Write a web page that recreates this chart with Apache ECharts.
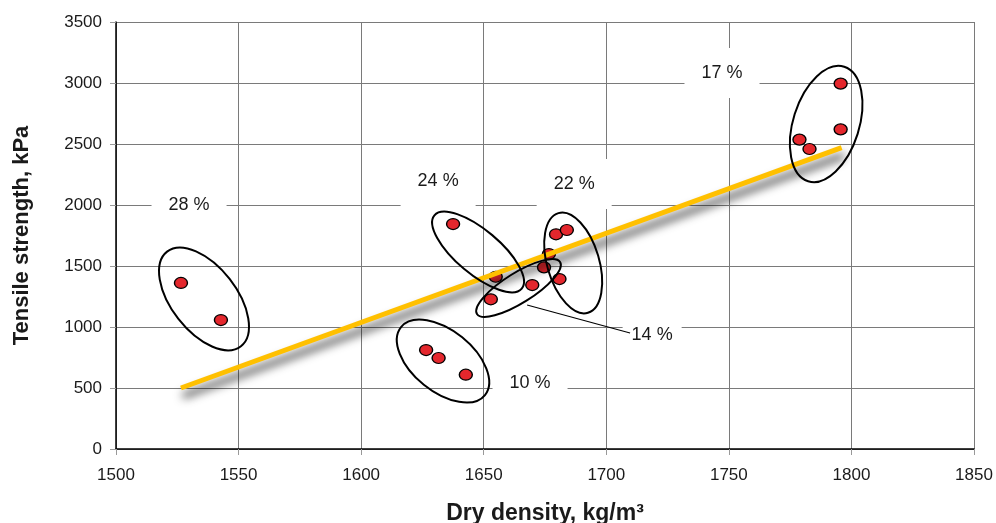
<!DOCTYPE html>
<html>
<head>
<meta charset="utf-8">
<script src="https://cdn.jsdelivr.net/npm/echarts@6/dist/echarts.min.js"></script>
<style>
  html, body { margin: 0; padding: 0; background: #ffffff; }
  #chart { width: 996px; height: 523px; }
</style>
</head>
<body>
<div id="chart"></div>
<script>
// Samples: dry density (kg/m³) against tensile strength (kPa)
const densityValues  = [1526.5, 1542.8, 1637.5, 1654.9, 1652.9, 1669.8, 1674.6, 1676.6, 1679.5, 1683.9, 1680.9, 1626.5, 1631.6, 1642.7, 1778.8, 1782.9, 1795.6, 1795.6];
const strengthValues = [1361,   1057,   1844,   1412,   1227,   1344,   1489,   1598,   1760,   1795,   1393,   811,    746,    609,    2536,   2459,   2620,   2995];

// Linear trend through the samples (end points)
const trendDensity  = [1526.5, 1796];
const trendStrength = [500, 2470];

// Moisture-content groups: label text, label anchor and group centre
const groupLabels      = ['28 %', '24 %', '22 %', '17 %', '10 %', '14 %'];
const labelDensity     = [1529.8, 1631.4, 1686.9, 1747.2, 1668.9, 1718.7];
const labelStrength    = [2000,   2197,   2172,   3082,   541,    934];
const groupCentreDensity  = [1535.9, 1647.7, 1686.5, 1789.7, 1633.4, 1664.2];
const groupCentreStrength = [1230,   1615,   1525,   2664,   721,    1320];

// Leader from the "14 %" label to its group
const leaderDensity  = [1667.7, 1709.7];
const leaderStrength = [1180, 951];

// Axis ticks
const xTicks = { min: 1500, max: 1850, step: 50 };
const yTicks = { min: 0, max: 3500, step: 500 };

// Drawing layout (pixels): ellipse radii/tilt, label box padding
const ellipseShapes = [
  { rx: 60, ry: 32.5, angle: 52 },
  { rx: 57, ry: 22,   angle: 40 },
  { rx: 52, ry: 26,   angle: 73.5 },
  { rx: 60, ry: 33,   angle: -72.5 },
  { rx: 54, ry: 30.5, angle: 39 },
  { rx: 49, ry: 15,   angle: -32 }
];
const labelPadding = [[16, 17], [16, 17], [16, 17], [16, 17], [10, 17], [10, 9]];

const FONT = '"Liberation Sans", Arial, Helvetica, sans-serif';

const chart = echarts.init(document.getElementById('chart'), null, { renderer: 'canvas' });

function axisBase(t) {
  return {
    type: 'value',
    min: t.min, max: t.max, interval: t.step,
    axisLine: { show: true, onZero: false, lineStyle: { color: '#000', width: 1.5 } },
    axisTick: { show: true, length: 6, lineStyle: { color: '#999', width: 1 } },
    splitLine: { show: true, lineStyle: { color: '#7a7a7a', width: 1 } },
    axisLabel: { color: '#1a1a1a', fontSize: 17, fontFamily: FONT, formatter: v => String(v) },
    nameLocation: 'middle',
    nameTextStyle: { color: '#1a1a1a', fontWeight: 'bold', fontFamily: FONT }
  };
}

const xAxis = Object.assign(axisBase(xTicks), { name: 'Dry density, kg/m³', nameGap: 53 });
xAxis.axisLabel.margin = 18;
xAxis.nameTextStyle.fontSize = 23;
const yAxis = Object.assign(axisBase(yTicks), { name: 'Tensile strength, kPa', nameGap: 83 });
yAxis.axisLabel.margin = 14;
yAxis.nameTextStyle.fontSize = 22;

chart.setOption({
  animation: false,
  backgroundColor: '#ffffff',
  grid: { left: 116, right: 22, top: 22, bottom: 74, containLabel: false, outerBoundsMode: 'none' },
  xAxis: xAxis,
  yAxis: yAxis,
  series: [
    {
      name: 'labels',
      type: 'custom',
      z: 2,
      silent: true,
      clip: false,
      data: labelDensity.map((d, i) => [d, labelStrength[i], i]),
      renderItem: function (params, api) {
        const i = api.value(2);
        const p = api.coord([api.value(0), api.value(1)]);
        return {
          type: 'text',
          x: p[0], y: p[1],
          style: {
            text: groupLabels[i],
            fontSize: 18, fontFamily: FONT, fill: '#1a1a1a',
            align: 'center', verticalAlign: 'middle',
            backgroundColor: '#ffffff',
            padding: labelPadding[i]
          }
        };
      }
    },
    {
      name: 'samples',
      type: 'scatter',
      z: 3,
      symbol: 'circle',
      symbolSize: [13, 11],
      itemStyle: { color: '#e4272d', borderColor: '#000', borderWidth: 1.3, opacity: 1 },
      data: densityValues.map((d, i) => [d, strengthValues[i]])
    },
    {
      name: 'trend',
      type: 'line',
      z: 4,
      symbol: 'none',
      silent: true,
      lineStyle: {
        color: '#ffc000', width: 5, cap: 'butt',
        shadowColor: 'rgba(0,0,0,0.8)', shadowBlur: 10,
        shadowOffsetX: 2, shadowOffsetY: 8
      },
      data: trendDensity.map((d, i) => [d, trendStrength[i]])
    },
    {
      name: 'leader',
      type: 'line',
      z: 5,
      symbol: 'none',
      silent: true,
      lineStyle: { color: '#000', width: 1.2 },
      data: leaderDensity.map((d, i) => [d, leaderStrength[i]])
    },
    {
      name: 'groups',
      type: 'custom',
      z: 6,
      silent: true,
      clip: false,
      data: groupCentreDensity.map((d, i) => [d, groupCentreStrength[i], i]),
      renderItem: function (params, api) {
        const s = ellipseShapes[api.value(2)];
        const p = api.coord([api.value(0), api.value(1)]);
        return {
          type: 'ellipse',
          x: p[0], y: p[1],
          rotation: -s.angle * Math.PI / 180,
          shape: { cx: 0, cy: 0, rx: s.rx, ry: s.ry },
          style: { fill: 'none', stroke: '#000', lineWidth: 2 }
        };
      }
    }
  ]
});
</script>
</body>
</html>
